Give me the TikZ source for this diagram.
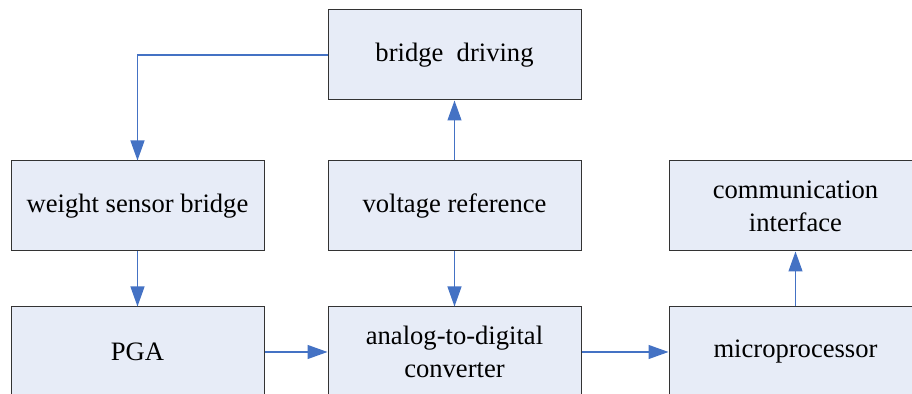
\documentclass[tikz,border=0pt]{standalone}
\usepackage{fontspec}
\setmainfont{Liberation Serif}
\usetikzlibrary{positioning, arrows.meta}
\definecolor{boxfill}{RGB}{231,236,247}
\definecolor{linkblue}{RGB}{68,114,196}

\begin{document}
\begin{tikzpicture}[node distance=30pt and 31.5pt,
        block/.style={rectangle, draw=black!80, line width=0.5pt, fill=boxfill,
            minimum width=126.5pt, minimum height=45pt, inner sep=0pt, align=center,
            font=\fontsize{13.3}{16.5}\selectfont},
        link/.style={draw=linkblue, line width=0.6pt, -{Triangle[length=10pt, width=7pt]}}]
        \useasboundingbox (0,0) rectangle (456pt,-197pt);

        \node[block] (drive) at (227.25pt,-27.5pt) {bridge\ \ driving};
        \node[block] (ref) [below=of drive] {voltage reference};
        \node[block] (weight) [left=of ref] {weight sensor bridge};
        \node[block] (comm) [right=43.5pt of ref] {communication\\interface};
        \node[block] (adc) [below=27.5pt of ref] {analog-to-digital\\converter};
        \node[block] (pga) [left=of adc] {PGA};
        \node[block] (micro) [right=43.5pt of adc] {microprocessor};

        \path[link] (drive.west) -| (weight.north);
        \path[link] (ref) -- (drive);
        \path[link] (weight) -- (pga);
        \path[link] (ref) -- (adc);
        \path[link] (pga) -- (adc);
        \path[link] (adc) -- (micro);
        \path[link] (micro) -- (comm);
    \end{tikzpicture}
\end{document}
